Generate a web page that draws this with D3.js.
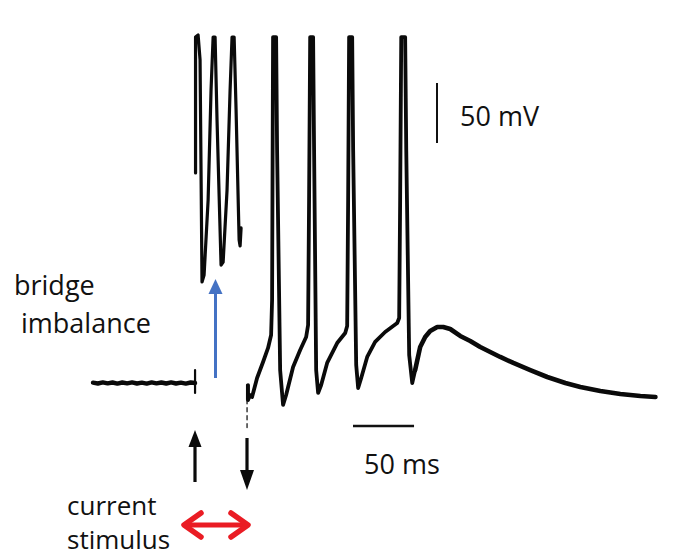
<!DOCTYPE html>
<html>
<head>
<meta charset="utf-8">
<script src="https://cdn.jsdelivr.net/npm/d3@7"></script>
<style>
  html, body { margin: 0; padding: 0; background: #fff; }
  svg { display: block; }
  text { font-family: "Open Sans", "Noto Sans", sans-serif; fill: #111; }
</style>
</head>
<body>
<svg id="chart" width="686" height="557"></svg>
<script>
// ---------- data (time in ms, membrane potential in mV relative to rest) ----------
const baselineT = [0,4,8,12,16,20,24,28,32,36,40,44,48,52,56,60,64,68,72,76,80,83.6];
const baselineV = [0.3,-0.4,0.5,-0.3,0.4,-0.5,0.4,-0.3,0.5,-0.4,0.3,-0.5,0.5,-0.3,0.4,-0.4,0.5,-0.4,0.3,-0.5,0.4,0];

// stimulus-onset artifact
const onsetT = [83.6, 83.6];
const onsetV = [10.8, -8.3];

// spikes during the current step (bridge imbalance)
const bridgeT = [84.0, 84.0, 86.1, 87.7, 89.3, 91.0, 94.3, 96.7, 98.4, 100.0, 101.6, 104.9, 106.6, 109.8, 112.3, 113.9, 115.6, 117.2, 119.7, 120.5, 121.3];
const bridgeV = [175, 288.3, 290, 269.2, 84.2, 90, 152.5, 244.2, 288.3, 288.3, 219.2, 98.3, 100.8, 160.8, 244.2, 288.3, 288.3, 227.5, 119.2, 114.2, 129.2];

// stimulus-offset artifact
const offsetT = [126.2, 126.2];
const offsetV = [-1.7, -14];
const offsetDashT = [126.2, 126.2];
const offsetDashV = [-14, -37];

// spike train after the current step
const trainT = [127.0, 127.0, 128.7, 130.3, 134.4, 139.3, 143.4, 145.9, 146.7, 147.5, 150.0, 150.8, 153.3, 155.7, 158.2, 163.9, 169.7, 174.6, 176.2, 177.0, 177.9, 180.3, 181.1, 182.8, 184.4, 186.9, 191.8, 200.0, 206.6, 208.2, 209.0, 209.8, 212.3, 213.1, 215.6, 217.2, 219.7, 224.6, 231.1, 239.3, 249.2, 250.8, 251.6, 252.5, 255.7, 256.6, 259.0, 261.5, 263.9];
const trainV = [-1.7, -14.2, -10, -11.7, 4.2, 17.5, 29.2, 40, 69.2, 288.3, 288.3, 194.2, 10.8, -18.3, -10, 13.3, 27.5, 38.3, 48.3, 152.5, 288.3, 288.3, 194.2, 10.8, -8.3, -1.7, 16.7, 33.3, 41.7, 47.5, 152.5, 288.3, 288.3, 194.2, 15, -4.2, 4.2, 21.7, 34.2, 42.5, 50, 54.2, 152.5, 288.3, 288.3, 194.2, 23.3, 0, 10.8];

// afterpotential
const tailT = [263.9, 268.0, 272.1, 276.2, 282.0, 286.9, 292.6, 300.8, 309.0, 317.2, 325.4, 333.6, 344.3, 358.2, 372.1, 386.9, 399.2, 415.6, 432.0, 448.4, 460.7];
const tailV = [10.8, 30, 38.3, 43.3, 46.7, 46.7, 45, 39.2, 35, 30, 25.8, 21.7, 16.7, 10.8, 5, 0, -3.3, -6.7, -9.2, -10.8, -11.7];

// scale bars and labels
const scaleBarMs = 50;
const scaleBarMv = 50;
const labelMv = "50 mV";
const labelMs = "50 ms";
const labelBridge = ["bridge", "imbalance"];
const labelStim = ["current", "stimulus"];

// ---------- drawing ----------
const svg = d3.select("#chart");
const x = d3.scaleLinear().domain([0, 462]).range([93, 657]);
const y = d3.scaleLinear().domain([-40, 290]).range([431, 35]);

const line = d3.line().x(d => x(d[0])).y(d => y(d[1])).curve(d3.curveLinear);
const zip = (a, b) => a.map((v, i) => [v, b[i]]);

function trace(T, V, w, extra) {
  const p = svg.append("path")
    .attr("d", line(zip(T, V)))
    .attr("fill", "none")
    .attr("stroke", "#0a0a0a")
    .attr("stroke-width", w)
    .attr("stroke-linejoin", "round")
    .attr("stroke-linecap", "round");
  if (extra) extra(p);
  return p;
}

trace(baselineT, baselineV, 4.4);
trace(onsetT, onsetV, 2.2);
trace(bridgeT, bridgeV, 3.2);
trace(offsetT, offsetV, 2.2);
trace(offsetDashT, offsetDashV, 1.6, p => p.attr("stroke-dasharray", "4,4").attr("stroke", "#444"));
trace(trainT, trainV, 3.8);
trace(tailT, tailV, 4.6);

// 50 mV scale bar
const mvX = 437, mvBottom = 143;
svg.append("line")
  .attr("x1", mvX).attr("x2", mvX)
  .attr("y1", mvBottom).attr("y2", mvBottom - (y(0) - y(scaleBarMv)))
  .attr("stroke", "#111").attr("stroke-width", 2);
svg.append("text").attr("x", 460).attr("y", 126).attr("font-size", 27).text(labelMv);

// 50 ms scale bar
const msX0 = 353, msY = 426;
svg.append("line")
  .attr("x1", msX0).attr("x2", msX0 + (x(scaleBarMs) - x(0)))
  .attr("y1", msY).attr("y2", msY)
  .attr("stroke", "#111").attr("stroke-width", 2.4);
svg.append("text").attr("x", 364).attr("y", 474).attr("font-size", 27).text(labelMs);

// labels
svg.append("text").attr("x", 14).attr("y", 295).attr("font-size", 27).text(labelBridge[0]);
svg.append("text").attr("x", 21).attr("y", 333).attr("font-size", 27).text(labelBridge[1]);
svg.append("text").attr("x", 67).attr("y", 515).attr("font-size", 26).text(labelStim[0]);
svg.append("text").attr("x", 67).attr("y", 549).attr("font-size", 26).text(labelStim[1]);

// arrows
function arrow(xc, yTail, yTip, headLen, headW, color, w) {
  const dir = yTip < yTail ? 1 : -1;
  svg.append("line")
    .attr("x1", xc).attr("x2", xc)
    .attr("y1", yTail).attr("y2", yTip + dir * headLen * 0.8)
    .attr("stroke", color).attr("stroke-width", w);
  svg.append("path")
    .attr("d", `M${xc},${yTip} L${xc - headW / 2},${yTip + dir * headLen} L${xc + headW / 2},${yTip + dir * headLen} Z`)
    .attr("fill", color);
}
arrow(215.5, 378, 279, 15, 14, "#4472c4", 3);   // bridge imbalance (blue)
arrow(195, 482, 430, 17, 13, "#0a0a0a", 3.2);   // stimulus on
arrow(247, 438, 490, 20, 14, "#0a0a0a", 3.2);   // stimulus off

// red double-headed arrow (current stimulus)
const red = "#ea1c24";
const ry = 525, rx0 = 184, rx1 = 248;
svg.append("line").attr("x1", rx0 + 4).attr("x2", rx1 - 4).attr("y1", ry).attr("y2", ry)
  .attr("stroke", red).attr("stroke-width", 5);
svg.append("path")
  .attr("d", `M${rx0 + 17},${ry - 12} L${rx0},${ry} L${rx0 + 17},${ry + 12} M${rx1 - 17},${ry - 12} L${rx1},${ry} L${rx1 - 17},${ry + 12}`)
  .attr("fill", "none").attr("stroke", red).attr("stroke-width", 5.5)
  .attr("stroke-linecap", "round").attr("stroke-linejoin", "round");
</script>
</body>
</html>
